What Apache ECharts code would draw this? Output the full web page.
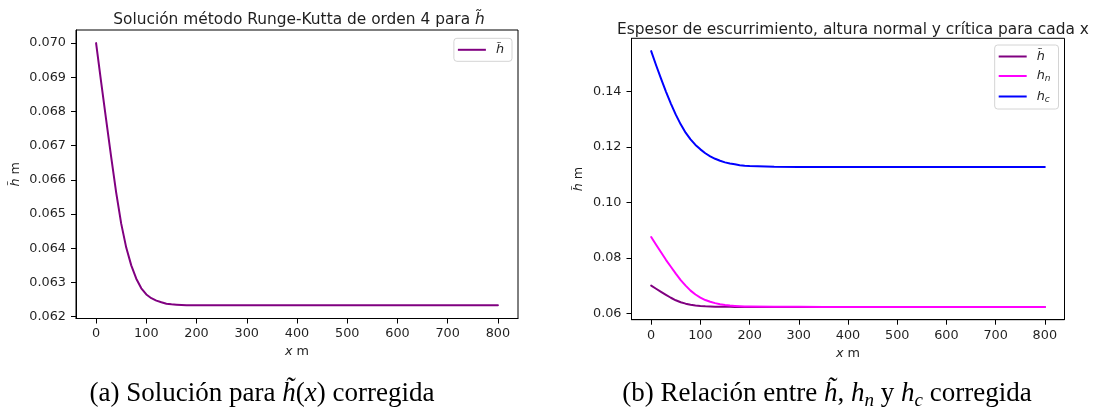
<!DOCTYPE html>
<html>
<head>
<meta charset="utf-8">
<script src="https://cdn.jsdelivr.net/npm/echarts@6/dist/echarts.min.js"></script>
<style>
  html, body { margin: 0; padding: 0; background: #fff; }
  #chart { width: 1093px; height: 411px; }
</style>
</head>
<body>
<div id="chart"></div>
<script>
// Distance along the slope (m)
const xs = [0, 10, 20, 30, 40, 50, 60, 70, 80, 90, 100, 110, 120, 130, 140, 150, 160, 170, 180, 190, 200,
            250, 300, 350, 400, 450, 500, 550, 600, 650, 700, 750, 800];

// Runoff thickness h~ (RK4 solution), m
const hTilde = [0.07000, 0.06887, 0.06776, 0.06667, 0.06563, 0.06472, 0.06402, 0.06350, 0.06311, 0.06283,
                0.06265, 0.06254, 0.06247, 0.06242, 0.06238, 0.06236, 0.06235, 0.06234, 0.06233, 0.06233, 0.06233,
                0.06233, 0.06233, 0.06233, 0.06233, 0.06233, 0.06233, 0.06233, 0.06233, 0.06233, 0.06233, 0.06233, 0.06233];

// Normal depth h_n, m
const hNormal = [0.0875, 0.0847, 0.0820, 0.0793, 0.0768, 0.0743, 0.0720, 0.0700, 0.0682, 0.0668,
                 0.0657, 0.0648, 0.0642, 0.0637, 0.0633, 0.0630, 0.0628, 0.0627, 0.0626, 0.0625, 0.0625,
                 0.0624, 0.06235, 0.06233, 0.06233, 0.06233, 0.06233, 0.06233, 0.06233, 0.06233, 0.06233, 0.06233, 0.06233];

// Critical depth h_c, m
const hCritical = [0.1545, 0.1494, 0.1446, 0.1399, 0.1356, 0.1316, 0.1281, 0.1251, 0.1227, 0.1207,
                   0.1191, 0.1177, 0.1166, 0.1157, 0.1150, 0.1144, 0.1140, 0.1137, 0.1134, 0.1132, 0.1131,
                   0.1128, 0.1127, 0.1127, 0.1127, 0.1127, 0.1127, 0.1127, 0.1127, 0.1127, 0.1127, 0.1127, 0.1127];

// Tick labels
const xTicks = [0, 100, 200, 300, 400, 500, 600, 700, 800];
const yTicksLeft = [0.062, 0.063, 0.064, 0.065, 0.066, 0.067, 0.068, 0.069, 0.070];
const yTicksRight = [0.06, 0.08, 0.10, 0.12, 0.14];

const FONT = 'DejaVu Sans';
const SERIF = 'Liberation Serif';
const TICK = 12.8;
const INK = '#1f1f1f';
const pairs = (ys) => xs.map((x, i) => [x, ys[i]]);

const mathRich = {
  it: { fontFamily: FONT, fontStyle: 'italic', fontSize: TICK, color: INK },
  up: { fontFamily: FONT, fontSize: TICK, color: INK }
};

function xAxisFor(gridIndex) {
  return {
    type: 'value', gridIndex, min: -40, max: 840,
    axisLine: { show: true, onZero: false, lineStyle: { color: '#000', width: 1 } },
    axisTick: { show: true, length: 5, lineStyle: { color: '#000' }, customValues: xTicks },
    axisLabel: { customValues: xTicks, fontFamily: FONT, fontSize: TICK, color: INK, margin: 9 },
    splitLine: { show: false },
    name: '{it|x}{up| m}', nameLocation: 'middle', nameGap: 27,
    nameTextStyle: { rich: mathRich }
  };
}

function yAxisFor(gridIndex, min, max, ticks, decimals, gap) {
  return {
    type: 'value', gridIndex, min, max,
    axisLine: { show: true, onZero: false, lineStyle: { color: '#000', width: 1 } },
    axisTick: { show: true, length: 5, lineStyle: { color: '#000' }, customValues: ticks },
    axisLabel: {
      customValues: ticks, fontFamily: FONT, fontSize: TICK, color: INK, margin: 10,
      formatter: (v) => v.toFixed(decimals)
    },
    splitLine: { show: false },
    name: '{it|h̃}{up| m}', nameLocation: 'middle', nameGap: gap, nameRotate: 90,
    nameTextStyle: { rich: mathRich }
  };
}

const legendRich = {
  it: { fontFamily: FONT, fontStyle: 'italic', fontSize: TICK, color: INK, lineHeight: 15 },
  sub: { fontFamily: FONT, fontStyle: 'italic', fontSize: 9, color: INK, lineHeight: 9, padding: [6, 0, 0, 0] }
};
const legendNames = { 'h̃': '{it|h̃}', 'h_n': '{it|h}{sub|n}', 'h_c': '{it|h}{sub|c}' };

const legendBase = {
  orient: 'vertical', icon: 'rect', itemWidth: 28, itemHeight: 2,
  backgroundColor: '#fff', borderColor: '#d4d4d4', borderWidth: 1, borderRadius: 3,
  padding: [5, 8, 5, 4], itemGap: 5.5, selectedMode: false,
  formatter: (n) => legendNames[n],
  textStyle: { rich: legendRich, padding: [0, 0, 0, 5] }
};

const chart = echarts.init(document.getElementById('chart'), null, { renderer: 'canvas' });

const line = (name, data, color, xi, yi) => ({
  name, type: 'line', xAxisIndex: xi, yAxisIndex: yi, data: pairs(data),
  smooth: false, showSymbol: false, symbol: 'none',
  lineStyle: { color, width: 2, join: 'round', cap: 'round' }, itemStyle: { color }, animation: false
});

chart.setOption({
  animation: false,
  backgroundColor: '#fff',
  title: [
    {
      text: 'Solución método Runge-Kutta de orden 4 para {it|h̃}', left: 294, top: 7, textAlign: 'center',
      textStyle: { fontFamily: FONT, fontSize: 15.4, fontWeight: 'normal', color: INK,
                   rich: { it: { fontFamily: FONT, fontStyle: 'italic', fontSize: 15.4, color: INK } } }
    },
    {
      text: 'Espesor de escurrimiento, altura normal y crítica para cada x', left: 848, top: 17, textAlign: 'center',
      textStyle: { fontFamily: FONT, fontSize: 15.4, fontWeight: 'normal', color: INK }
    }
  ],
  grid: [
    { left: 76, right: 575, top: 30, bottom: 92.5, show: true, borderColor: '#000', borderWidth: 1 },
    { left: 631.5, right: 28.5, top: 38.3, bottom: 91.3, show: true, borderColor: '#000', borderWidth: 1 }
  ],
  xAxis: [xAxisFor(0), xAxisFor(1)],
  yAxis: [
    yAxisFor(0, 0.061946, 0.070384, yTicksLeft, 3, 54),
    yAxisFor(1, 0.05772, 0.15911, yTicksRight, 2, 46)
  ],
  legend: [
    Object.assign({}, legendBase, { data: ['h̃'], right: 581, top: 38.3 }),
    Object.assign({}, legendBase, { data: ['h̃', 'h_n', 'h_c'], right: 34.5, top: 45 })
  ],
  series: [
    line('h̃', hTilde, '#800080', 0, 0),
    line('h̃', hTilde, '#800080', 1, 1),
    line('h_n', hNormal, '#ff00ff', 1, 1),
    line('h_c', hCritical, '#0000ff', 1, 1)
  ],
  graphic: [
    {
      type: 'text', x: 262, y: 394, silent: true,
      style: {
        text: '(a) Solución para {it|h̃}({it|x}) corregida',
        font: '27px "Liberation Serif"', fill: '#000', align: 'center', verticalAlign: 'middle',
        rich: { it: { fontFamily: SERIF, fontStyle: 'italic', fontSize: 27, fill: '#000' } }
      }
    },
    {
      type: 'text', x: 827, y: 394, silent: true,
      style: {
        text: '(b) Relación entre {it|h̃}, {it|h}{sub|n} y {it|h}{sub|c} corregida',
        font: '27px "Liberation Serif"', fill: '#000', align: 'center', verticalAlign: 'middle',
        rich: {
          it: { fontFamily: SERIF, fontStyle: 'italic', fontSize: 27, fill: '#000', lineHeight: 32 },
          sub: { fontFamily: SERIF, fontStyle: 'italic', fontSize: 19, fill: '#000', lineHeight: 17, padding: [14, 0, 0, 0] }
        }
      }
    }
  ]
});
</script>
</body>
</html>
